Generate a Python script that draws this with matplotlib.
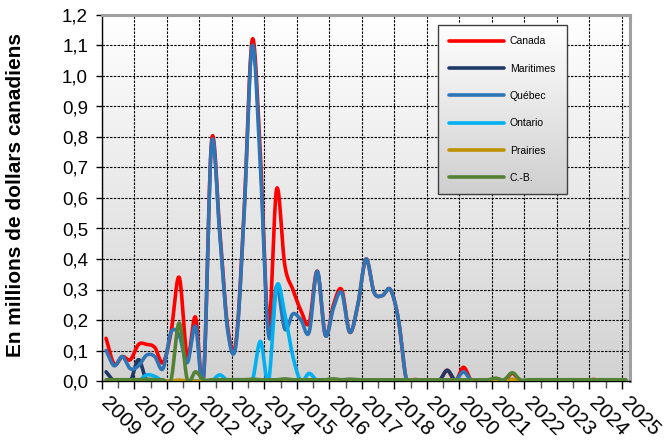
import numpy as np
import matplotlib
matplotlib.use("Agg")
import matplotlib.pyplot as plt
from matplotlib.colors import LinearSegmentedColormap
from matplotlib.ticker import MultipleLocator, FixedLocator
from matplotlib.transforms import ScaledTranslation

plt.rcParams['font.family'] = ['Liberation Sans', 'DejaVu Sans']

# ---- data (quarterly, 2009 Q1 .. 2025 Q1), millions of CAD ----
years = list(range(2009, 2026))
y_ticks = [0.0, 0.1, 0.2, 0.3, 0.4, 0.5, 0.6, 0.7, 0.8, 0.9, 1.0, 1.1, 1.2]
n_quarters = 65

canada = [0.14, 0.055, 0.08, 0.07, 0.12, 0.12, 0.11, 0.06, 0.16, 0.34,
          0.08, 0.21, 0.01, 0.79, 0.49, 0.17, 0.13, 0.56, 1.12, 0.74,
          0.18, 0.63, 0.38, 0.30, 0.23, 0.19, 0.36, 0.15, 0.25, 0.30,
          0.16, 0.25, 0.40, 0.29, 0.28, 0.30, 0.20, 0.0, 0.005, 0.0,
          0.003, 0.0, 0.035, 0.0, 0.045, 0.0, 0.0, 0.0, 0.008, 0.0,
          0.025, 0.0, 0.0, 0.0, 0.0, 0.0, 0.0, 0.0, 0.0, 0.0,
          0.005, 0.0, 0.0, 0.0, 0.0]
maritimes = [0.03, 0.0, 0.0, 0.0, 0.07, 0.0, 0.0, 0.0, 0.0, 0.0,
             0.0, 0.0, 0.0, 0.0, 0.0, 0.0, 0.0, 0.0, 0.0, 0.0,
             0.0, 0.0, 0.0, 0.0, 0.0, 0.0, 0.0, 0.0, 0.0, 0.0,
             0.0, 0.0, 0.0, 0.0, 0.0, 0.0, 0.0, 0.0, 0.0, 0.002,
             0.0, 0.0, 0.035, 0.0, 0.0, 0.0, 0.0, 0.0, 0.0, 0.0,
             0.0, 0.0, 0.0, 0.0, 0.0, 0.0, 0.0, 0.0, 0.0, 0.0,
             0.0, 0.0, 0.0, 0.0, 0.0]
quebec = [0.10, 0.05, 0.08, 0.04, 0.05, 0.085, 0.08, 0.04, 0.16, 0.15,
          0.06, 0.18, 0.01, 0.78, 0.48, 0.16, 0.12, 0.55, 1.10, 0.70,
          0.15, 0.31, 0.17, 0.22, 0.20, 0.16, 0.36, 0.15, 0.24, 0.29,
          0.16, 0.25, 0.40, 0.29, 0.28, 0.30, 0.20, 0.0, 0.0, 0.0,
          0.003, 0.0, 0.0, 0.0, 0.03, 0.0, 0.0, 0.0, 0.0, 0.0,
          0.005, 0.0, 0.0, 0.0, 0.0, 0.0, 0.0, 0.0, 0.0, 0.0,
          0.0, 0.0, 0.0, 0.0, 0.0]
ontario = [0.0, 0.0, 0.0, 0.0, 0.0, 0.02, 0.015, 0.0, 0.0, 0.0,
           0.0, 0.0, 0.0, 0.0, 0.02, 0.0, 0.0, 0.0, 0.0, 0.13,
           0.0, 0.31, 0.22, 0.08, 0.0, 0.025, 0.0, 0.0, 0.0, 0.0,
           0.0, 0.0, 0.0, 0.0, 0.0, 0.0, 0.0, 0.0, 0.0, 0.0,
           0.0, 0.0, 0.0, 0.0, 0.0, 0.0, 0.0, 0.0, 0.0, 0.0,
           0.0, 0.0, 0.0, 0.0, 0.0, 0.0, 0.0, 0.0, 0.0, 0.0,
           0.0, 0.0, 0.0, 0.0, 0.0]
prairies = [0.0, 0.0, 0.0, 0.0, 0.0, 0.0, 0.0, 0.0, 0.0, 0.003,
            0.0, 0.0, 0.0, 0.0, 0.0, 0.0, 0.0, 0.0, 0.0, 0.0,
            0.0, 0.0, 0.0, 0.0, 0.0, 0.0, 0.003, 0.0, 0.0, 0.0,
            0.0, 0.0, 0.0, 0.0, 0.0, 0.0, 0.0, 0.0, 0.0, 0.0,
            0.0, 0.0, 0.0, 0.0, 0.0, 0.0, 0.0, 0.0, 0.003, 0.0,
            0.005, 0.0, 0.0, 0.0, 0.0, 0.0, 0.0, 0.0, 0.0, 0.0,
            0.0, 0.0, 0.0, 0.0, 0.0]
cb = [0.004, 0.004, 0.004, 0.004, 0.004, 0.006, 0.004, 0.004, 0.004, 0.19,
      0.004, 0.03, 0.004, 0.004, 0.004, 0.004, 0.004, 0.004, 0.006, 0.004,
      0.004, 0.004, 0.007, 0.004, 0.004, 0.004, 0.004, 0.004, 0.007, 0.004,
      0.006, 0.004, 0.004, 0.004, 0.004, 0.004, 0.004, 0.004, 0.004, 0.004,
      0.004, 0.004, 0.004, 0.004, 0.004, 0.004, 0.004, 0.004, 0.009, 0.004,
      0.027, 0.004, 0.004, 0.004, 0.004, 0.004, 0.004, 0.004, 0.004, 0.004,
      0.004, 0.004, 0.004, 0.004, 0.004]

series = [("Canada", canada, "#FF0000"),
          ("Maritimes", maritimes, "#1F3864"),
          ("Québec", quebec, "#2E75B6"),
          ("Ontario", ontario, "#00B0F0"),
          ("Prairies", prairies, "#BF9000"),
          ("C.-B.", cb, "#548235")]

x_q = 2009 + (np.arange(n_quarters) + 0.5) / 4.0


def smooth(x, y, n=16):
    """Excel-like smoothed line (Catmull-Rom through the data points)."""
    P = np.column_stack([np.asarray(x, float), np.asarray(y, float)])
    Pe = np.vstack([2 * P[0] - P[1], P, 2 * P[-1] - P[-2]])
    t = np.linspace(0, 1, n, endpoint=False)[:, None]
    out = []
    for i in range(1, len(Pe) - 2):
        p0, p1, p2, p3 = Pe[i - 1], Pe[i], Pe[i + 1], Pe[i + 2]
        seg = 0.5 * (2 * p1 + (-p0 + p2) * t
                     + (2 * p0 - 5 * p1 + 4 * p2 - p3) * t ** 2
                     + (-p0 + 3 * p1 - 3 * p2 + p3) * t ** 3)
        out.append(seg)
    out.append(P[-1][None, :])
    S = np.vstack(out)
    return S[:, 0], S[:, 1]


W, H = 665, 444
fig = plt.figure(figsize=(W / 100, H / 100), dpi=100)
fig.patch.set_facecolor("white")
ax = fig.add_axes([102 / W, 1 - 381 / H, 528 / W, 366 / H])

# gradient background of plot area
cmap_bg = LinearSegmentedColormap.from_list("bg", ["#ffffff", "#d2d2d2"])
grad = np.linspace(0, 1, 256)[:, None]
ax.imshow(grad, extent=[0, 1, 0, 1], transform=ax.transAxes, aspect="auto",
          cmap=cmap_bg, zorder=0, interpolation="bicubic")

handles = []
for i, (name, vals, col) in enumerate(series):
    sx, sy = smooth(x_q, vals)
    ln, = ax.plot(sx, sy, color=col, lw=2.6, solid_capstyle="round",
                  solid_joinstyle="round", zorder=3 + i * 0.1, label=name,
                  clip_on=True)
    handles.append(ln)

ax.set_xlim(2009, 2025.25)
ax.set_ylim(0, 1.2)
ax.set_aspect("auto")

ax.xaxis.set_major_locator(FixedLocator(years))
ax.xaxis.set_minor_locator(MultipleLocator(0.5))
ax.yaxis.set_major_locator(FixedLocator(y_ticks))
ax.set_xticklabels([""] * len(years))
ax.set_yticklabels([f"{v:.1f}".replace(".", ",") for v in y_ticks],
                   fontsize=13.5)
ax.tick_params(axis="x", which="major", direction="out", length=6, width=1,
               pad=3, colors="black")
ax.tick_params(axis="x", which="minor", direction="out", length=5, width=1,
               color="#555555")
ax.tick_params(axis="y", which="major", direction="out", length=4, width=1,
               pad=6)

# year labels, rotated, starting just right of each year tick
lab_tr = ax.get_xaxis_transform() + ScaledTranslation(9 / 100, -12 / 100,
                                                      fig.dpi_scale_trans)
for yr in years:
    ax.text(yr, 0, str(yr), transform=lab_tr, rotation=-45, ha="left",
            va="top", rotation_mode="anchor", fontsize=15, clip_on=False)

ax.grid(True, which="major", color="black", linestyle=(0, (2.2, 1.2)),
        linewidth=0.8, zorder=1)
ax.set_axisbelow(True)

for side in ("top", "right"):
    ax.spines[side].set_color("#a0a0a0")
    ax.spines[side].set_linewidth(2.2)
for side in ("left", "bottom"):
    ax.spines[side].set_color("black")
    ax.spines[side].set_linewidth(1.0)

fig.text(16 / W, 1 - 195 / H, "En millions de dollars canadiens",
         rotation=90, ha="center", va="center", fontsize=15,
         fontweight="bold")

leg = ax.legend(handles=handles, loc="upper left",
                bbox_to_anchor=((438 - 102) / 528, (381 - 25) / 366),
                borderaxespad=0, fontsize=7.5, handlelength=5.2,
                handletextpad=0.6, labelspacing=1.66, borderpad=1.1,
                fancybox=False, frameon=True, edgecolor="#404040",
                facecolor="none", framealpha=1)
leg.get_frame().set_linewidth(1.0)
leg.set_zorder(10)

fig.canvas.draw()
bb = leg.get_window_extent().transformed(ax.transAxes.inverted())
cmap_leg = LinearSegmentedColormap.from_list("lg", ["#ffffff", "#cfcfcf"])
ax.imshow(grad, extent=[bb.x0, bb.x1, bb.y0, bb.y1], transform=ax.transAxes,
          aspect="auto", cmap=cmap_leg, zorder=9.5, interpolation="bicubic")
ax.set_xlim(2009, 2025.25)
ax.set_ylim(0, 1.2)

fig.savefig("out.png", dpi=100)
